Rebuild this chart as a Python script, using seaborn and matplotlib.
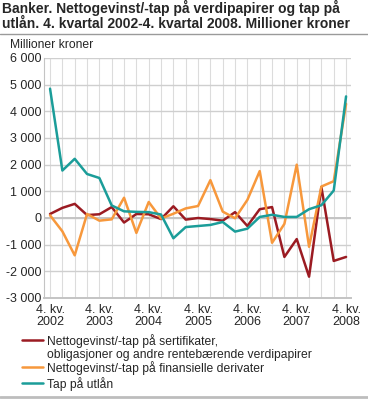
import matplotlib
matplotlib.use('Agg')
import matplotlib.pyplot as plt
import seaborn as sns
import pandas as pd
from matplotlib.lines import Line2D

# Quarters from 4. kv. 2002 to 4. kv. 2008
quarters = list(range(25))
tick_pos = [0, 4, 8, 12, 16, 20, 24]
tick_labels = ['4. kv.\n2002', '4. kv.\n2003', '4. kv.\n2004', '4. kv.\n2005',
               '4. kv.\n2006', '4. kv.\n2007', '4. kv.\n2008']

sertifikater = [150, 380, 530, 110, 140, 410, -170, 150, 140, -40, 440, -60, 0, -40,
                -100, 220, -300, 330, 410, -1460, -790, -2200, 1160, -1610, -1460]
derivater = [100, -500, -1400, 150, -100, -50, 760, -560, 600, -20, 160, 360, 450, 1420,
             240, -10, 680, 1760, -930, -220, 2000, -1080, 1180, 1380, 4280]
utlaan = [4850, 1780, 2220, 1650, 1500, 470, 250, 230, 220, 130, -760, -340, -300, -260,
          -150, -510, -400, 40, 120, 40, 40, 330, 480, 1030, 4560]

names = ['Nettogevinst/-tap på sertifikater,\nobligasjoner og andre rentebærende verdipapirer',
         'Nettogevinst/-tap på finansielle derivater',
         'Tap på utlån']
colors = ['#9b1b22', '#f7983c', '#1b9d99']

df = pd.concat([
    pd.DataFrame({'kvartal': quarters, 'verdi': sertifikater, 'serie': names[0]}),
    pd.DataFrame({'kvartal': quarters, 'verdi': derivater, 'serie': names[1]}),
    pd.DataFrame({'kvartal': quarters, 'verdi': utlaan, 'serie': names[2]}),
])

sns.set_style('white')
plt.rcParams['font.family'] = ['Liberation Sans', 'DejaVu Sans']

fig = plt.figure(figsize=(3.68, 3.99), dpi=100)
ax = fig.add_axes([44 / 368, 1 - 298 / 399, 307 / 368, 240 / 399])

sns.lineplot(data=df, x='kvartal', y='verdi', hue='serie', palette=colors,
             linewidth=1.8, ax=ax, legend=False, zorder=3)

ax.set_xlim(-0.49, 24.4)
ax.set_ylim(-3000, 6000)
ax.set_yticks(range(-3000, 6001, 1000))
ax.set_yticklabels([f'{v:,}'.replace(',', ' ') for v in range(-3000, 6001, 1000)], fontsize=9)
ax.set_xticks(tick_pos)
ax.set_xticklabels(tick_labels, fontsize=9, linespacing=1.0)
ax.tick_params(axis='y', length=0, pad=2)
ax.tick_params(axis='x', length=0, pad=4)
ax.set_xlabel('')
ax.set_ylabel('')

# grid
for q in quarters:
    ax.axvline(q, color='#dcdcdc', linewidth=0.8, zorder=1)
for v in range(-3000, 6001, 1000):
    ax.axhline(v, color='#cfcfcf', linewidth=1.0, zorder=1)
ax.axhline(0, color='#c4c4c4', linewidth=1.4, zorder=2)

for s in ['top', 'right']:
    ax.spines[s].set_visible(False)
ax.spines['left'].set_color('#c4c4c4')
ax.spines['bottom'].set_color('#c4c4c4')
ax.spines['bottom'].set_linewidth(1.4)

fig.text(2 / 368, 1 - 13 / 399, 'Banker. Nettogevinst/-tap på verdipapirer og tap på',
         fontsize=10, fontweight='bold', va='baseline', ha='left')
fig.text(2 / 368, 1 - 28 / 399, 'utlån. 4. kvartal 2002-4. kvartal 2008. Millioner kroner',
         fontsize=10, fontweight='bold', va='baseline', ha='left')
fig.add_artist(Line2D([0, 1], [1 - 33.5 / 399, 1 - 33.5 / 399], color='#9a9a9a', linewidth=1.0))
fig.text(10 / 368, 1 - 45 / 399, 'Millioner kroner', fontsize=8.7, va='center', ha='left')

# legend, handle aligned with the first text line
legend_rows = [340, 367, 383]
for c, label, y in zip(colors, names, legend_rows):
    yf = 1 - y / 399
    fig.add_artist(Line2D([22 / 368, 43 / 368], [yf, yf], color=c, linewidth=1.8))
    fig.text(47 / 368, 1 - (y - 6) / 399, label, fontsize=8.7, va='top', ha='left',
             linespacing=1.15)
fig.add_artist(Line2D([0, 1], [1 - 397 / 399, 1 - 397 / 399], color='#bdbdbd', linewidth=2.0))

fig.savefig('out.png', dpi=100)
